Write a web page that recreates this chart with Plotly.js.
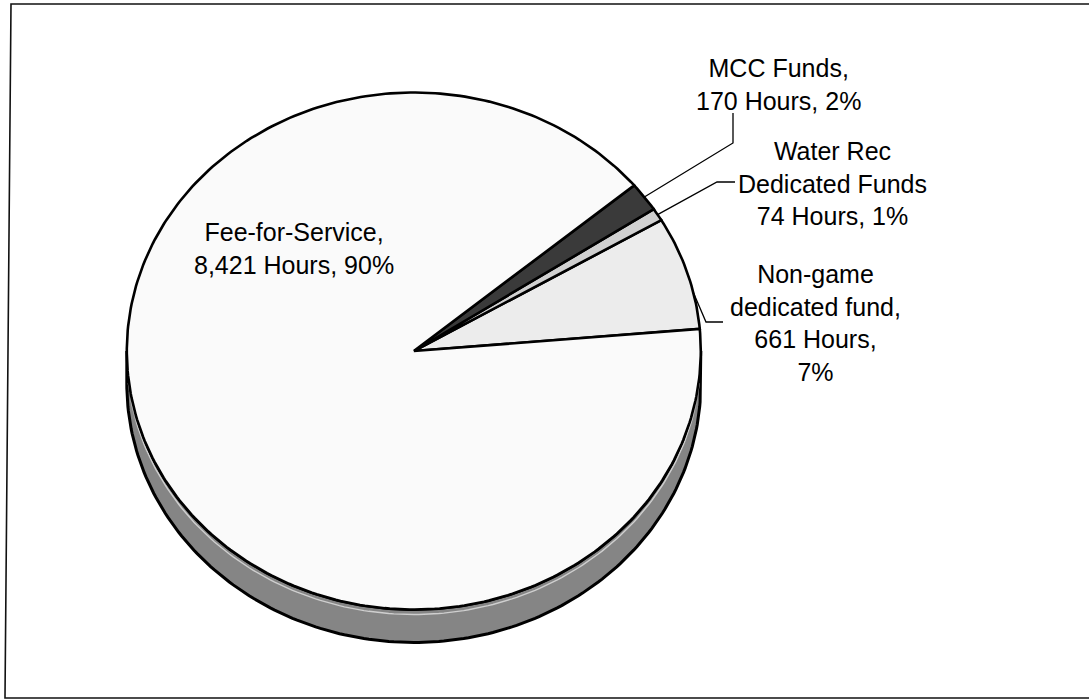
<!DOCTYPE html>
<html>
<head>
<meta charset="utf-8">
<script src="https://cdn.plot.ly/plotly-3.0.1.min.js"></script>
<style>html,body{margin:0;padding:0;background:#fff}#chart{width:1089px;height:700px}</style>
</head>
<body>
<div id="chart"></div>
<script>
// ---- data (slices listed counter-clockwise from the start angle) ----
const categories = ['Non-game dedicated fund', 'Water Rec Dedicated Funds', 'MCC Funds', 'Fee-for-Service'];
const hours = [661, 74, 170, 8421];
const labelTexts = [
  'Non-game<br>dedicated fund,<br>661 Hours,<br>7%',
  'Water Rec<br>Dedicated Funds<br>74 Hours, 1%',
  'MCC Funds,<br>170 Hours, 2%',
  'Fee-for-Service,<br>8,421 Hours, 90%'
];
const fills = ['#ececec', '#d0d0d0', '#3a3a3a', '#fafafa'];

// ---- geometry of the tilted pie (pixel space) ----
const cx = 413.8, cy = 351, rx = 287, ry = 258.5, depth = 33, startDeg = 4.9;
const rad = d => d * Math.PI / 180;
const pt = (deg, dy) => [cx + rx * Math.cos(rad(deg)), cy + (dy || 0) - ry * Math.sin(rad(deg))];

const total = hours.reduce((a, b) => a + b, 0);
const traces = [];

// side wall (visible lower half)
{
  const xs = [], ys = [];
  for (let d = 180; d <= 360; d += 1) { const p = pt(d, 0); xs.push(p[0]); ys.push(p[1]); }
  for (let d = 360; d >= 180; d -= 1) { const p = pt(d, depth); xs.push(p[0]); ys.push(p[1]); }
  xs.push(xs[0]); ys.push(ys[0]);
  traces.push({x: xs, y: ys, mode: 'lines', fill: 'toself', fillcolor: '#858585',
    line: {color: '#000', width: 3}, hoverinfo: 'skip', showlegend: false});
  // thin highlight just under the top rim
  const hx = [], hy = [];
  for (let d = 186; d <= 354; d += 1) { const p = pt(d, 5); hx.push(p[0]); hy.push(p[1]); }
  traces.push({x: hx, y: hy, mode: 'lines', line: {color: '#cfcfcf', width: 1.4},
    hoverinfo: 'skip', showlegend: false});
}

// slices
const mids = [];
let acc = startDeg;
hours.forEach((h, i) => {
  const span = h / total * 360;
  const a0 = acc, a1 = acc + span;
  mids.push((a0 + a1) / 2);
  const xs = [cx], ys = [cy];
  const n = Math.max(4, Math.ceil(span));
  for (let k = 0; k <= n; k++) { const p = pt(a0 + span * k / n); xs.push(p[0]); ys.push(p[1]); }
  xs.push(cx); ys.push(cy);
  traces.push({x: xs, y: ys, mode: 'lines', fill: 'toself', fillcolor: fills[i],
    line: {color: '#000', width: 2.6}, name: categories[i], hoverinfo: 'name', showlegend: false});
  acc = a1;
});

// leader lines
const mccStart = pt(mids[2]);
const wtrStart = pt(mids[1]);
const ngStart = pt(13);
const leaders = [
  [mccStart, [733, 143], [733, 113]],
  [wtrStart, [717, 182], [735, 182]],
  [ngStart, [706, 322], [723, 322]]
];
leaders.forEach(L => {
  traces.push({x: L.map(p => p[0]), y: L.map(p => p[1]), mode: 'lines',
    line: {color: '#000', width: 1.3}, hoverinfo: 'skip', showlegend: false});
});

const labelPos = [[815, 322.5], [832, 183.5], [778, 84], [294, 248]];
const annotations = labelTexts.map((t, i) => ({
  x: labelPos[i][0], y: labelPos[i][1], xref: 'x', yref: 'y', text: t, showarrow: false,
  align: 'center', xanchor: 'center', yanchor: 'middle',
  font: {family: 'Liberation Sans, Arial, sans-serif', size: 25, color: '#000'}
}));

const layout = {
  width: 1089, height: 700,
  margin: {l: 0, r: 0, t: 0, b: 0},
  paper_bgcolor: '#fff', plot_bgcolor: '#fff',
  xaxis: {range: [0, 1089], visible: false, fixedrange: true},
  yaxis: {range: [700, 0], visible: false, fixedrange: true},
  showlegend: false,
  annotations: annotations,
  shapes: [
    {type: 'path', xref: 'x', yref: 'y', path: 'M 1089 4 L 11 4 L 5 698 L 1089 698',
     line: {color: '#111', width: 1.6}}
  ]
};

Plotly.newPlot('chart', traces, layout, {staticPlot: true, displayModeBar: false});
</script>
</body>
</html>
